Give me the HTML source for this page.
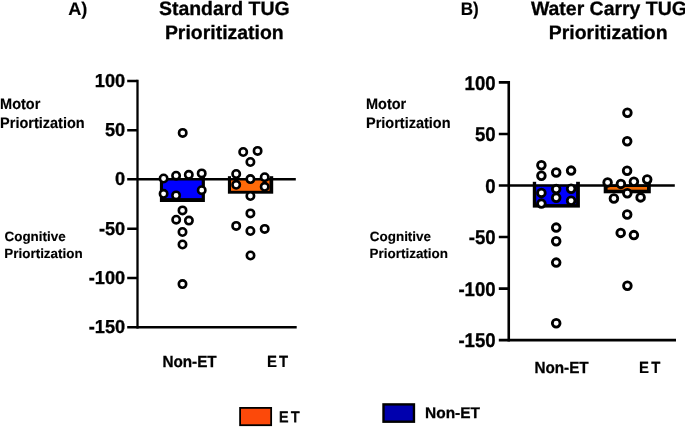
<!DOCTYPE html>
<html lang="en">
<head>
<meta charset="utf-8">
<title>TUG Prioritization</title>
<style>
html,body{margin:0;padding:0;background:#fff;}
body{width:685px;height:427px;overflow:hidden;}
svg{display:block;filter:blur(0.3px);}
text{font-family:"Liberation Sans",Arial,Helvetica,sans-serif;fill:#000;stroke:#000;stroke-width:0.3px;text-rendering:geometricPrecision;}
.b{font-weight:bold;}
.title{font-size:19.45px;font-weight:bold;text-anchor:middle;}
.panel{font-size:17.6px;font-weight:bold;}
.tickA{font-size:18.2px;font-weight:bold;text-anchor:end;}
.tickB{font-size:18.6px;font-weight:bold;text-anchor:end;}
.xl{font-size:15.5px;font-weight:bold;}
.motor{font-size:14.5px;font-weight:bold;stroke-width:0.15px;}
.cog{font-size:13.45px;font-weight:bold;stroke-width:0.15px;}
.ptsA circle{fill:#fff;stroke:#000;stroke-width:2.6;}
.ptsB circle{fill:#fff;stroke:#000;stroke-width:2.8;}
</style>
</head>
<body>
<svg width="685" height="427" viewBox="0 0 685 427">
<rect x="0" y="0" width="685" height="427" fill="#fff"/>

<!-- Panel A -->
<text class="panel" x="68.2" y="14.7" style="font-size:18.2px;stroke-width:0.15px">A)</text>
<text class="title" x="224.3" y="15.3">Standard TUG</text>
<text class="title" x="224.3" y="39.2">Prioritization</text>
<text class="motor" transform="translate(0.1,109.2) scale(1,1.05)">Motor</text>
<text class="motor" transform="translate(0.1,128.4) scale(1,1.05)">Priortization</text>
<text class="cog" x="4.5" y="241.1">Cognitive</text>
<text class="cog" x="4.3" y="257.6">Priortization</text>

<text class="tickA" transform="translate(125.2,87.10) scale(1,1.03)">100</text>
<text class="tickA" transform="translate(125.2,136.30) scale(1,1.03)">50</text>
<text class="tickA" transform="translate(125.2,185.45) scale(1,1.03)">0</text>
<text class="tickA" transform="translate(125.2,234.75) scale(1,1.03)">-50</text>
<text class="tickA" transform="translate(125.2,284.00) scale(1,1.03)">-100</text>
<text class="tickA" transform="translate(125.2,333.45) scale(1,1.03)">-150</text>

<!-- bars A -->
<rect x="159.9" y="176.2" width="45" height="25.8" fill="#000"/>
<rect x="163" y="176.2" width="38.7" height="21.9" fill="#0000ff"/>
<rect x="163" y="175" width="38.7" height="3.6" fill="#fff"/>
<rect x="227.9" y="176.2" width="45.3" height="17.5" fill="#000"/>
<rect x="231" y="176.2" width="38.5" height="14.6" fill="#ff6a08"/>
<rect x="231" y="175" width="38.5" height="3.6" fill="#fff"/>

<!-- axes A -->
<g stroke="#000" stroke-width="2.5" fill="none" stroke-linecap="butt">
<path d="M137.5 79.75 V328.6" stroke-width="2.3"/>
<path d="M127.2 81 H137.5 M127.2 130.2 H137.5 M127.2 179.35 H295.8 M127.2 228.65 H137.5 M127.2 277.9 H137.5 M127.2 327.35 H296.7"/>
</g>

<g class="ptsA">
<circle cx="182.7" cy="132.9" r="3.7"/>
<circle cx="163.6" cy="178.5" r="3.7"/>
<circle cx="176.1" cy="175.7" r="3.7"/>
<circle cx="188.8" cy="174.8" r="3.7"/>
<circle cx="201.7" cy="173.4" r="3.7"/>
<circle cx="201.7" cy="190.2" r="3.7"/>
<circle cx="163.6" cy="193.8" r="3.7"/>
<circle cx="176.1" cy="195.4" r="3.7"/>
<circle cx="182.5" cy="210.4" r="3.7"/>
<circle cx="176.2" cy="219.7" r="3.7"/>
<circle cx="188.9" cy="220.6" r="3.7"/>
<circle cx="182.5" cy="232.0" r="3.7"/>
<circle cx="182.5" cy="244.5" r="3.7"/>
<circle cx="182.5" cy="284.1" r="3.7"/>
<circle cx="243.2" cy="152.0" r="3.7"/>
<circle cx="257.6" cy="150.9" r="3.7"/>
<circle cx="250.4" cy="162.0" r="3.7"/>
<circle cx="236.2" cy="174.0" r="3.7"/>
<circle cx="250.4" cy="179.1" r="3.7"/>
<circle cx="264.7" cy="177.2" r="3.7"/>
<circle cx="236.2" cy="184.8" r="3.7"/>
<circle cx="264.7" cy="186.8" r="3.7"/>
<circle cx="250.4" cy="196.0" r="3.7"/>
<circle cx="250.4" cy="213.4" r="3.7"/>
<circle cx="236.2" cy="225.9" r="3.7"/>
<circle cx="250.4" cy="231.0" r="3.7"/>
<circle cx="264.7" cy="228.9" r="3.7"/>
<circle cx="250.5" cy="255.5" r="3.7"/>
</g>

<text class="xl" transform="translate(162.4,366.9) scale(0.985,1.04)">Non-ET</text>
<text class="xl" transform="translate(267,366.9) scale(0.96,1.05)" style="letter-spacing:2.2px;stroke-width:0.2px">ET</text>

<!-- Panel B -->
<text class="panel" transform="translate(460.7,14.8) scale(0.94,1)" style="font-size:18.2px;stroke-width:0.15px">B)</text>
<text class="title" x="608.9" y="15">Water Carry TUG</text>
<text class="title" x="608.2" y="38.6">Prioritization</text>
<text class="motor" transform="translate(366,109.2) scale(1,1.05)">Motor</text>
<text class="motor" transform="translate(366,128.4) scale(1,1.05)">Priortization</text>
<text class="cog" x="369.8" y="241.1">Cognitive</text>
<text class="cog" x="369.6" y="257.6">Priortization</text>

<text class="tickB" transform="translate(495.6,89.65) scale(1,1.07)">100</text>
<text class="tickB" transform="translate(495.6,141.20) scale(1,1.07)">50</text>
<text class="tickB" transform="translate(495.6,192.75) scale(1,1.07)">0</text>
<text class="tickB" transform="translate(495.6,244.30) scale(1,1.07)">-50</text>
<text class="tickB" transform="translate(495.6,295.85) scale(1,1.07)">-100</text>
<text class="tickB" transform="translate(495.6,347.40) scale(1,1.07)">-150</text>

<!-- bars B -->
<rect x="532.8" y="181.8" width="47.1" height="25.8" fill="#000"/>
<rect x="536.2" y="181.8" width="39.9" height="22.3" fill="#0000ff"/>
<rect x="536.2" y="180" width="39.9" height="4.8" fill="#fff"/>
<rect x="603.7" y="183" width="47.1" height="10.3" fill="#000"/>
<rect x="607.6" y="187" width="39.4" height="2.7" fill="#ee6800"/>
<rect x="607.2" y="182" width="40.4" height="2.5" fill="#fff"/>

<!-- axes B -->
<g stroke="#000" stroke-width="2.6" fill="none" stroke-linecap="butt">
<path d="M508.75 81.1 V341.4"/>
<path d="M498.8 82.4 H508.9 M498.8 133.95 H508.9 M498.8 185.5 H674.8 M498.8 237.05 H508.9 M498.8 288.6 H508.9 M498.8 340.15 H676"/>
</g>

<g class="ptsB">
<circle cx="541.4" cy="165.2" r="3.85"/>
<circle cx="541.4" cy="175.7" r="3.85"/>
<circle cx="556.2" cy="172.5" r="3.85"/>
<circle cx="571.1" cy="170.6" r="3.85"/>
<circle cx="556.2" cy="189.1" r="3.85"/>
<circle cx="571.1" cy="188.7" r="3.85"/>
<circle cx="541.4" cy="192.9" r="3.85"/>
<circle cx="556.2" cy="197.7" r="3.85"/>
<circle cx="571.1" cy="200.7" r="3.85"/>
<circle cx="541.4" cy="203.6" r="3.85"/>
<circle cx="556.2" cy="227.6" r="3.85"/>
<circle cx="556.2" cy="241.3" r="3.85"/>
<circle cx="556.2" cy="262.6" r="3.85"/>
<circle cx="556.2" cy="323.2" r="3.85"/>
<circle cx="627.4" cy="112.8" r="3.85"/>
<circle cx="627.2" cy="141.3" r="3.85"/>
<circle cx="627.1" cy="170.8" r="3.85"/>
<circle cx="607.6" cy="182.4" r="3.85"/>
<circle cx="620.9" cy="183.9" r="3.85"/>
<circle cx="633.9" cy="181.8" r="3.85"/>
<circle cx="647.2" cy="179.5" r="3.85"/>
<circle cx="627.3" cy="193.3" r="3.85"/>
<circle cx="613.9" cy="198.5" r="3.85"/>
<circle cx="640.6" cy="197.4" r="3.85"/>
<circle cx="627.2" cy="214.5" r="3.85"/>
<circle cx="620.7" cy="232.9" r="3.85"/>
<circle cx="633.9" cy="235.1" r="3.85"/>
<circle cx="627.4" cy="285.7" r="3.85"/>
</g>

<text class="xl" transform="translate(534.4,372.7) scale(0.985,1.04)">Non-ET</text>
<text class="xl" transform="translate(639.1,372.7) scale(0.96,1.05)" style="letter-spacing:2.2px;stroke-width:0.2px">ET</text>

<!-- Legend -->
<rect x="240.1" y="407.9" width="31.05" height="17.3" fill="#fc490a" stroke="#000" stroke-width="1.8"/>
<text transform="translate(279,422.2) scale(0.94,1)" style="font-size:14.9px;letter-spacing:2.9px;stroke-width:0.9px">ET</text>
<rect x="383.5" y="404.4" width="30.45" height="17.3" fill="#0000ae" stroke="#000" stroke-width="2.4"/>
<text class="b" x="425.1" y="418" style="font-size:15.45px">Non-ET</text>
</svg>
</body>
</html>
